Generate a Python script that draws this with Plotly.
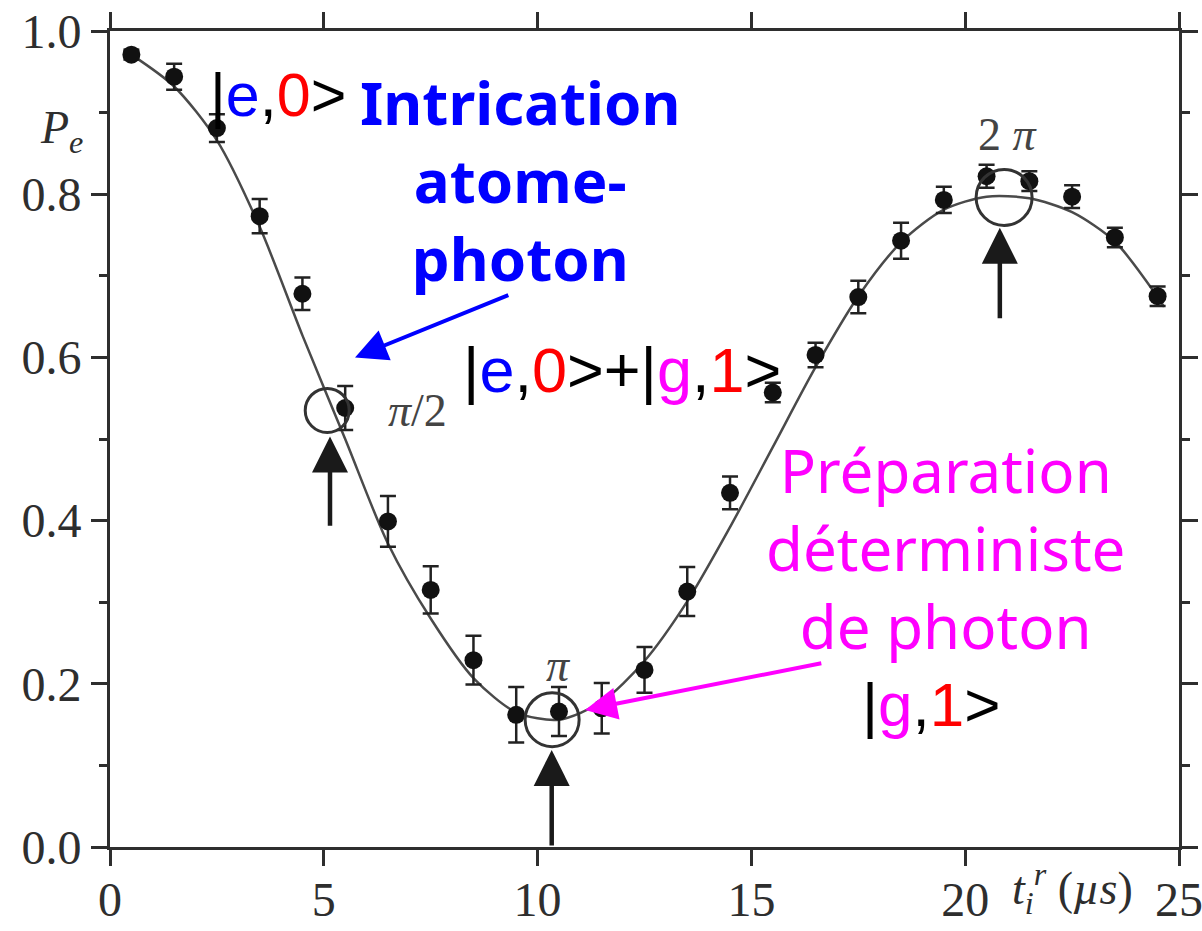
import plotly.graph_objects as go

# Measured excitation probability of the atom versus interaction time
t_meas = [0.5, 1.5, 2.5, 3.5, 4.5, 5.5, 6.5, 7.5, 8.5, 9.5, 10.5, 11.5, 12.5,
          13.5, 14.5, 15.5, 16.5, 17.5, 18.5, 19.5, 20.5, 21.5, 22.5, 23.5, 24.5]
pe_meas = [0.971, 0.944, 0.881, 0.773, 0.678, 0.538, 0.399, 0.315, 0.229, 0.162,
           0.166, 0.170, 0.217, 0.313, 0.434, 0.557, 0.603, 0.674, 0.743, 0.793,
           0.822, 0.816, 0.797, 0.747, 0.675]
pe_err = [0.006, 0.016, 0.017, 0.021, 0.020, 0.027, 0.031, 0.029, 0.030, 0.034,
          0.030, 0.031, 0.028, 0.030, 0.020, 0.012, 0.015, 0.020, 0.022, 0.016,
          0.014, 0.012, 0.014, 0.012, 0.012]

# Fitted damped Rabi oscillation
t_fit = [0.5, 1.5, 2.5, 3.5, 4.5, 5.5, 6.5, 7.5, 8.5, 9.5, 10.5, 11.5, 12.5,
         13.5, 14.5, 15.5, 16.5, 17.5, 18.5, 19.5, 20.5, 21.5, 22.5, 23.5, 24.5, 24.65]
pe_fit = [0.971, 0.932, 0.866, 0.760, 0.627, 0.500, 0.372, 0.280, 0.207, 0.165,
          0.156, 0.178, 0.228, 0.301, 0.392, 0.490, 0.588, 0.675, 0.741, 0.781,
          0.797, 0.795, 0.778, 0.742, 0.674, 0.662]

# Pulse areas marked on the curve: label, circle centre
pulse_labels = ["<i>\u03c0</i>/2", "<i>\u03c0</i>", "2 <i>\u03c0</i>"]
pulse_t = [5.08, 10.34, 20.91]
pulse_pe = [0.535, 0.156, 0.796]

x_ticks = [0, 5, 10, 15, 20, 25]
y_ticks = [0.0, 0.2, 0.4, 0.6, 0.8, 1.0]

AX = "#2e2e2e"
SERIF = "Liberation Serif, DejaVu Serif, serif"
SANS = "Liberation Sans, Arial, sans-serif"
ROUND = "Noto Sans, Open Sans, sans-serif"

fig = go.Figure()

fig.add_trace(go.Scatter(
    x=t_fit, y=pe_fit, mode="lines",
    line=dict(color="#4a4a4a", width=2.5, shape="spline", smoothing=0.8),
    hoverinfo="skip", showlegend=False))

fig.add_trace(go.Scatter(
    x=t_meas, y=pe_meas, mode="markers",
    marker=dict(color="#111111", size=18),
    error_y=dict(type="data", array=pe_err, color="#222222", thickness=2.5, width=8),
    showlegend=False))

annotations = []
shapes = []

# circles around the pi/2, pi and 2pi points
radii = [22, 27, 28]
for tc, pc, r in zip(pulse_t, pulse_pe, radii):
    shapes.append(dict(type="circle", xref="x", yref="y", xsizemode="pixel", ysizemode="pixel",
                       xanchor=tc, yanchor=pc, x0=-r, x1=r, y0=-r, y1=r,
                       line=dict(color="#333333", width=3)))

# upward arrows pointing at the circles
arrow_tips = [(5.145, 0.503, 0.392), (10.33, 0.119, 0.0), (20.81, 0.759, 0.646)]
for xt, ytip, ytail in arrow_tips:
    annotations.append(dict(x=xt, y=ytip, ax=xt, ay=ytail, xref="x", yref="y", axref="x", ayref="y",
                            text="", showarrow=True, arrowhead=2, arrowsize=1.6, arrowwidth=4.5,
                            arrowcolor="#1a1a1a"))

# pulse-area labels
label_pos = [(7.2, 0.535), (10.5, 0.222), (21.0, 0.873)]
for lab, (lx, ly) in zip(pulse_labels, label_pos):
    annotations.append(dict(x=lx, y=ly, xref="x", yref="y", text=lab, showarrow=False,
                            font=dict(family=SERIF, size=46, color="#444444")))

def ket(parts):
    return "".join(f'<span style="color:{c}">{s}</span>' for s, c in parts)

# state labels
annotations.append(dict(x=2.29, y=0.922, xref="x", yref="y", xanchor="left", showarrow=False,
                        text=ket([("|", "black"), ("e", "#0000ff"), (",", "black"), ("0", "#ff0000"), (">", "black")]),
                        font=dict(family=SANS, size=61, color="black")))
annotations.append(dict(x=8.20, y=0.584, xref="x", yref="y", xanchor="left", showarrow=False,
                        text=ket([("|", "black"), ("e", "#0000ff"), (",", "black"), ("0", "#ff0000"), (">+", "black"),
                                  ("|", "black"), ("g", "#ff00ff"), (",", "black"), ("1", "#ff0000"), (">", "black")]),
                        font=dict(family=SANS, size=63, color="black")))
annotations.append(dict(x=17.55, y=0.175, xref="x", yref="y", xanchor="left", showarrow=False,
                        text=ket([("|", "black"), ("g", "#ff00ff"), (",", "black"), ("1", "#ff0000"), (">", "black")]),
                        font=dict(family=SANS, size=62, color="black")))

annotations.append(dict(x=9.59, y=0.818, xref="x", yref="y", showarrow=False, align="center",
                        text="<b>Intrication<br>atome-<br>photon</b>",
                        font=dict(family=ROUND, size=60, color="#0000ff")))
annotations.append(dict(x=19.53, y=0.366, xref="x", yref="y", showarrow=False, align="center",
                        text="Préparation<br>déterministe<br>de photon",
                        font=dict(family=ROUND, size=60, color="#ff00ff")))

# coloured pointer arrows
annotations.append(dict(x=5.73, y=0.600, ax=9.35, ay=0.677, xref="x", yref="y", axref="x", ayref="y",
                        text="", showarrow=True, arrowhead=2, arrowsize=1.6, arrowwidth=4,
                        arrowcolor="#0000ff"))
annotations.append(dict(x=11.11, y=0.168, ax=16.67, ay=0.2256, xref="x", yref="y", axref="x", ayref="y",
                        text="", showarrow=True, arrowhead=2, arrowsize=1.6, arrowwidth=4,
                        arrowcolor="#ff00ff"))

# axis titles
annotations.append(dict(x=-0.067, y=0.915, xref="paper", yref="paper", showarrow=False,
                        text="<i>P</i><sub><i>e</i></sub>",
                        font=dict(family=SERIF, size=46, color=AX)))
annotations.append(dict(x=0.842, y=-0.093, xref="paper", yref="paper", xanchor="left", showarrow=False,
                        text="<i>t<sub>i</sub><sup>r</sup></i> (<i>\u00b5s</i>)",
                        font=dict(family=SERIF, size=46, color=AX)))

axis_common = dict(showgrid=False, zeroline=False, showline=True, linecolor=AX, linewidth=3,
                   mirror="allticks", ticks="outside", tickwidth=3, ticklen=16, tickcolor=AX,
                   automargin=False, ticklabeloverflow="allow",
                   tickfont=dict(family=SERIF, size=48, color=AX))

fig.update_layout(
    width=1202, height=931,
    margin=dict(l=110, r=23, t=31, b=84),
    paper_bgcolor="white", plot_bgcolor="white",
    xaxis=dict(range=[0, 25], tickvals=x_ticks, ticktext=[str(v) for v in x_ticks],
               ticklabelstandoff=-8, **axis_common),
    yaxis=dict(range=[0, 1], tickvals=y_ticks, ticktext=[f"{v:.1f}" for v in y_ticks],
               minor=dict(dtick=0.1, ticks="outside", ticklen=8, tickwidth=3, tickcolor=AX),
               **axis_common),
    annotations=annotations,
    shapes=shapes,
)

fig.write_html("out.html")
